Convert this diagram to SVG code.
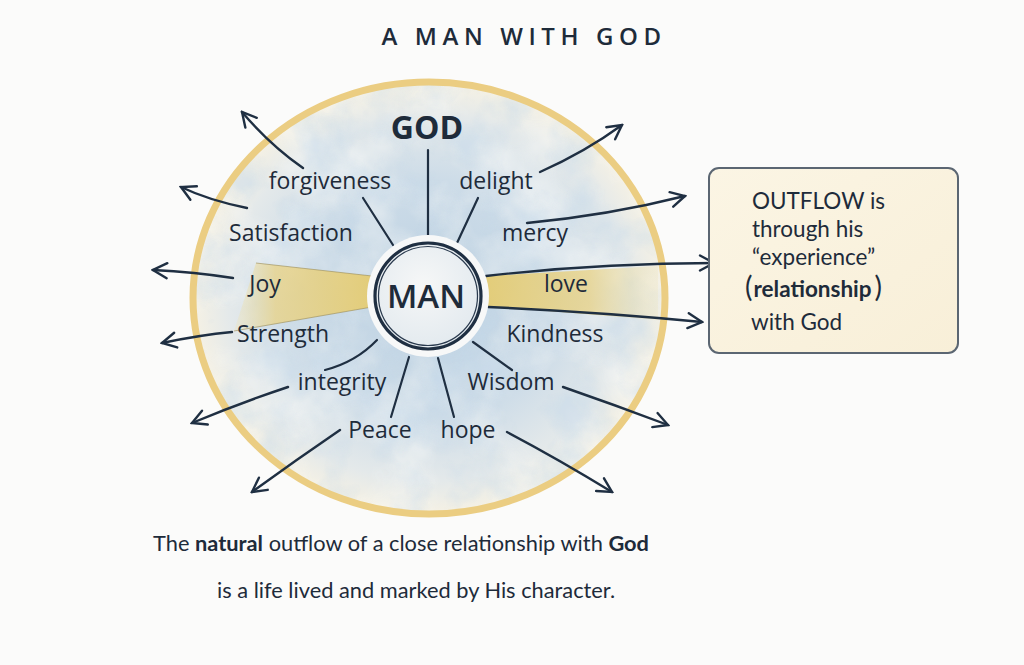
<svg xmlns="http://www.w3.org/2000/svg" width="1024" height="665" viewBox="0 0 1024 665">
<style>
.t{font-family:"Open Sans","Noto Sans",sans-serif;fill:#1e2b3a}
.cap{font-family:Lato,"Open Sans",sans-serif;fill:#1e2b3a;font-size:21.8px}
.lbl{font-size:23px;text-anchor:middle}
.ln{fill:none;stroke:#1f2f42;stroke-width:2.2;stroke-linecap:round}
.ar{fill:none;stroke:#1f2f42;stroke-width:2.4;stroke-linecap:round;marker-end:url(#ah)}
.bx{font-family:Lato,"Open Sans",sans-serif;fill:#1e2b3a;font-size:22.5px}
</style>
<defs>
<marker id="ah" viewBox="0 0 18 18" refX="16" refY="9" markerWidth="18" markerHeight="18" markerUnits="userSpaceOnUse" orient="auto">
<path d="M2,1.5 L16,9 L2,16.5" fill="none" stroke="#1f2f42" stroke-width="2.4" stroke-linecap="round" stroke-linejoin="miter"/>
</marker>
<radialGradient id="bg" cx="0.5" cy="0.5" r="0.5">
<stop offset="0" stop-color="#bcd1e2"/>
<stop offset="0.55" stop-color="#cddce8"/>
<stop offset="0.85" stop-color="#e4e9ea"/>
<stop offset="1" stop-color="#f5f1e4"/>
</radialGradient>
<radialGradient id="manf" cx="0.45" cy="0.4" r="0.6">
<stop offset="0" stop-color="#f6f7f7"/>
<stop offset="1" stop-color="#e3eaef"/>
</radialGradient>
<linearGradient id="bandL" x1="1" y1="0" x2="0" y2="0">
<stop offset="0" stop-color="#e4cc74" stop-opacity="0.95"/>
<stop offset="0.7" stop-color="#e8d38a" stop-opacity="0.8"/>
<stop offset="1" stop-color="#efe2b0" stop-opacity="0.25"/>
</linearGradient>
<linearGradient id="bandR" x1="0" y1="0" x2="1" y2="0">
<stop offset="0" stop-color="#e4cc74" stop-opacity="0.95"/>
<stop offset="0.6" stop-color="#e8d38a" stop-opacity="0.8"/>
<stop offset="1" stop-color="#efe2b0" stop-opacity="0.25"/>
</linearGradient>
<linearGradient id="boxf" x1="0" y1="0" x2="1" y2="1">
<stop offset="0" stop-color="#fbf5e4"/>
<stop offset="1" stop-color="#f8efd8"/>
</linearGradient>
<filter id="wc" x="0" y="0" width="100%" height="100%">
<feTurbulence type="fractalNoise" baseFrequency="0.014" numOctaves="4" seed="7" result="n"/>
<feColorMatrix in="n" type="matrix" values="0 0 0 0 0.97  0 0 0 0 0.97  0 0 0 0 0.95  2.6 0 0 0 -1.05"/>
<feComposite in2="SourceGraphic" operator="in"/>
</filter>
<filter id="wc2" x="0" y="0" width="100%" height="100%">
<feTurbulence type="fractalNoise" baseFrequency="0.02" numOctaves="4" seed="21" result="n"/>
<feColorMatrix in="n" type="matrix" values="0 0 0 0 0.55  0 0 0 0 0.69  0 0 0 0 0.82  2.8 0 0 0 -1.2"/>
<feComposite in2="SourceGraphic" operator="in"/>
</filter>
<clipPath id="cc"><ellipse cx="429" cy="298" rx="236" ry="216"/></clipPath>
</defs>
<rect width="1024" height="665" fill="#fbfbfa"/>

<g id="title"><text class="t" x="523" y="45" font-size="24" font-weight="600" text-anchor="middle" letter-spacing="3.5" textLength="283" lengthAdjust="spacing">A MAN WITH GOD</text></g>

<g id="circle">
<ellipse cx="429" cy="298" rx="236" ry="216" fill="url(#bg)"/>
<g clip-path="url(#cc)">
<rect x="190" y="80" width="480" height="440" fill="#fff" opacity="0.5" filter="url(#wc)"/>
<rect x="190" y="80" width="480" height="440" fill="#fff" opacity="0.45" filter="url(#wc2)"/>
</g>
<ellipse cx="429" cy="298" rx="236" ry="216" fill="none" stroke="#ebcd82" stroke-width="7"/>
</g>

<g id="bands">
<polygon points="372,276 256,263 234,331 372,307" fill="url(#bandL)"/>
<polygon points="486,276 658,266 658,320 486,306" fill="url(#bandR)"/>
<path d="M256,263 L372,276" fill="none" stroke="#9a8a55" stroke-width="1" opacity="0.6"/>
<path d="M234,331 L372,307" fill="none" stroke="#9a8a55" stroke-width="1" opacity="0.6"/>
</g>

<g id="connectors">
<path class="ln" d="M428,150 L428,237"/>
<path class="ln" d="M363,198 L393,245"/>
<path class="ln" d="M478,198 L457,243"/>
<path class="ln" d="M377,340 Q356,362 325,370"/>
<path class="ln" d="M409,357 L391,417"/>
<path class="ln" d="M438,358 L454,417"/>
<path class="ln" d="M473,342 L512,370"/>
<path class="ar" d="M303,168 Q270,145 242,112"/>
<path class="ar" d="M247,208 Q208,200 181,187"/>
<path class="ar" d="M233,278 Q195,272 153,270"/>
<path class="ar" d="M232,332 Q200,335 162,343"/>
<path class="ar" d="M288,387 Q240,403 192,423"/>
<path class="ar" d="M340,430 Q296,460 252,492"/>
<path class="ar" d="M507,432 Q560,460 612,492"/>
<path class="ar" d="M563,387 Q615,405 668,425"/>
<path class="ar" d="M488,307 Q600,312 702,322"/>
<path class="ar" d="M486,276 Q600,263 714,263"/>
<path class="ar" d="M527,223 Q610,215 685,196"/>
<path class="ar" d="M540,172 Q585,152 622,125"/>
</g>

<g id="man">
<circle cx="428" cy="296" r="61" fill="#f7f8f8"/>
<circle cx="428" cy="296" r="53" fill="url(#manf)" stroke="#1f2f42" stroke-width="3.2"/>
<circle cx="428" cy="296" r="49.5" fill="none" stroke="#2a3a4e" stroke-width="1.2"/>
<text class="t" x="426" y="308" font-size="33" font-weight="600" text-anchor="middle">MAN</text>
</g>

<g id="god"><text class="t" x="427" y="139" font-size="32" font-weight="700" text-anchor="middle">GOD</text></g>

<g id="labels">
<text class="t lbl" x="330" y="189">forgiveness</text>
<text class="t lbl" x="496" y="189">delight</text>
<text class="t lbl" x="291" y="241">Satisfaction</text>
<text class="t lbl" x="535" y="241">mercy</text>
<text class="t lbl" x="265" y="292">Joy</text>
<text class="t lbl" x="566" y="292">love</text>
<text class="t lbl" x="283" y="342">Strength</text>
<text class="t lbl" x="555" y="342">Kindness</text>
<text class="t lbl" x="342" y="390">integrity</text>
<text class="t lbl" x="511" y="390">Wisdom</text>
<text class="t lbl" x="380" y="438">Peace</text>
<text class="t lbl" x="468" y="438">hope</text>
</g>

<g id="outflow-box">
<rect x="709" y="168" width="249" height="185" rx="10" fill="url(#boxf)" stroke="#5b6672" stroke-width="2"/>
<text class="bx" x="752" y="209">OUTFLOW is</text>
<text class="bx" x="752" y="237">through his</text>
<text class="bx" x="752" y="265">“experience”</text>
<text class="bx" x="745" y="297"><tspan font-size="28" font-weight="400">(</tspan><tspan font-weight="700" dx="1">relationship</tspan><tspan font-size="28" font-weight="400" dx="3">)</tspan></text>
<text class="bx" x="751" y="330">with God</text>
</g>

<g id="caption">
<text class="cap" x="401" y="551" text-anchor="middle">The <tspan font-weight="700">natural</tspan> outflow of a close relationship with <tspan font-weight="700">God</tspan></text>
<text class="cap" x="416" y="598" text-anchor="middle">is a life lived and marked by His character.</text>
</g>
</svg>
